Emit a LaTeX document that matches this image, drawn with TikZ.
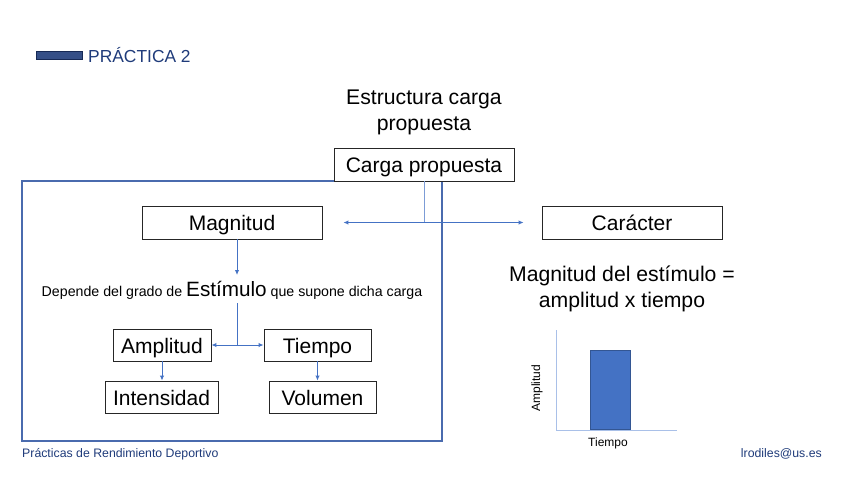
\documentclass[tikz,border=0pt]{standalone}
\usepackage{fontspec}
\setmainfont{Liberation Sans}
\usetikzlibrary{arrows.meta,positioning,calc}
\definecolor{azulosc}{HTML}{1F3B7A}
\definecolor{azul}{HTML}{4472C4}
\definecolor{azulmarco}{HTML}{4A6BAE}
\definecolor{azulclaro}{HTML}{A9C0E8}
\tikzset{
	caja/.style={draw=black!85, line width=0.9pt, fill=white, inner sep=0pt,
		minimum height=33pt, text height=16pt, text depth=0pt,
		font=\fontsize{21}{24}\selectfont},
	flecha/.style={draw=azul, line width=1pt, -{Latex[length=5pt,width=4.5pt]}},
	dflecha/.style={flecha, {Latex[length=5pt,width=4.5pt]}-{Latex[length=5pt,width=4.5pt]}},
	linea/.style={draw=azul, line width=1pt},
	titulo/.style={font=\fontsize{21.2}{26}\selectfont, align=center, inner sep=0pt},
	pie/.style={font=\fontsize{12.3}{14}\selectfont, text=azulosc, inner sep=0pt},
	eje/.style={font=\fontsize{12}{14}\selectfont, inner sep=0pt},
}

\begin{document}
\begin{tikzpicture}[x=1pt, y=-1pt]
	\useasboundingbox (0,0) rectangle (848,477);
	% cabecera
	\node[draw=azulosc!70!black, fill=azulosc!90, line width=0.8pt, minimum width=46pt, minimum height=8pt, inner sep=0pt] at (59,55) (barra) {};
	\node[anchor=west, text=azulosc, font=\fontsize{17.4}{20}\selectfont, inner sep=0pt] at (88,55) (practica) {PRÁCTICA 2};
	\node[titulo] at (424,112) (titulo) {Estructura carga\\propuesta};
	% marco y cajas
	\node[draw=azulmarco, line width=1.3pt, minimum width=420pt, minimum height=260pt, inner sep=0pt] at (232,311) (marco) {};
	\node[caja, minimum width=180pt] at (424,164.5) (carga) {Carga propuesta};
	\node[caja, minimum width=180pt] at (232,222.5) (mag) {Magnitud};
	\node[caja, minimum width=180pt] at (632,222.5) (car) {Carácter};
	\node[inner sep=0pt, font=\fontsize{14.2}{17}\selectfont] at (232,290) (depende) {Depende del grado de {\fontsize{20.7}{24}\selectfont Estímulo} que supone dicha carga};
	\node[caja, minimum width=98pt, minimum height=32pt] at (162,345) (amp) {Amplitud};
	\node[caja, minimum width=107pt, minimum height=32pt] at (317.5,345) (tie) {Tiempo};
	\node[caja, minimum width=113pt, minimum height=32pt] at (161.5,397) (int) {Intensidad};
	\node[caja, minimum width=107pt, minimum height=32pt] at (322.5,397) (vol) {Volumen};
	\coordinate (j) at (237,345);
	\coordinate (k) at (237,275);
	% conectores
	\draw[draw=azul!70, line width=0.8pt] (carga.south) -- (carga.south |- mag.east);
	\draw[dflecha] ([xshift=21pt]mag.east) -- ([xshift=-18pt]car.west);
	\draw[flecha] (mag.south -| j) -- (k);
	\draw[linea] ([yshift=-4pt]depende.south -| j) -- (j);
	\draw[dflecha] (amp.east) -- (tie.west);
	\draw[flecha] (amp.south) -- (amp.south |- int.north);
	\draw[flecha] (tie.south) -- (tie.south |- vol.north);
	% derecha
	\node[titulo] at (622,289) (formula) {Magnitud del estímulo =\\amplitud x tiempo};
	\draw[azulclaro, line width=1pt] (556,330) -- (556,430) -- (677,430);
	\node[fill=azul, draw=azul!75!black, line width=0.8pt, minimum width=40pt, minimum height=79pt, inner sep=0pt, anchor=south west] at (590,430) (columna) {};
	\node[eje, rotate=90] at (537,388) (ejey) {Amplitud};
	\node[eje] at (608,443) (ejex) {Tiempo};
	% pie
	\node[pie, anchor=west] at (22,454) (pieizq) {Prácticas de Rendimiento Deportivo};
	\node[pie, anchor=east] at (822,454) (pieder) {lrodiles@us.es};
\end{tikzpicture}
\end{document}
